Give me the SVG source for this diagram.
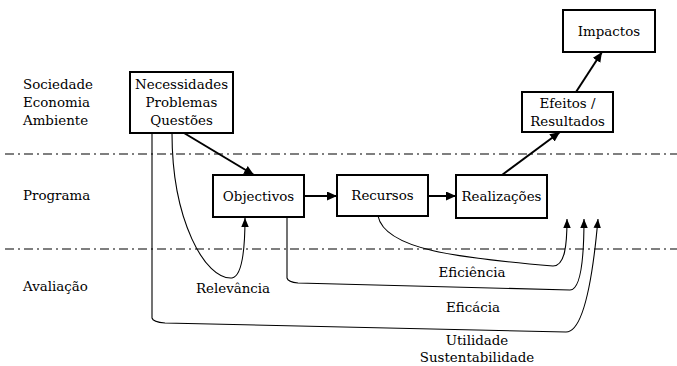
<svg xmlns="http://www.w3.org/2000/svg" width="677" height="366" viewBox="0 0 677 366">
<style>
text{font-family:"DejaVu Serif","Liberation Serif",serif;font-size:13.4px;fill:#000}
.c{text-anchor:middle}
.box{fill:#fff;stroke:#000;stroke-width:2}
.main{fill:none;stroke:#000;stroke-width:2}
.thin{fill:none;stroke:#000;stroke-width:1.1}
.sep{fill:none;stroke:#000;stroke-width:1.2;stroke-dasharray:9 4 2 4}
</style>
<defs>
<marker id="ah" markerUnits="userSpaceOnUse" markerWidth="11" markerHeight="9" refX="10" refY="4.5" orient="auto"><path d="M0,0 L10,4.5 L0,9 z" fill="#000"/></marker>
<marker id="ah2" markerUnits="userSpaceOnUse" markerWidth="10" markerHeight="8" refX="9" refY="3.75" orient="auto"><path d="M0,0 L9,3.75 L0,7.5 z" fill="#000"/></marker>
</defs>
<g id="separators">
<line class="sep" x1="5" y1="154" x2="677" y2="154"/>
<line class="sep" x1="5" y1="249" x2="677" y2="249"/>
</g>
<g id="labels">
<text x="23" y="89">Sociedade</text>
<text x="23" y="107">Economia</text>
<text x="23" y="125">Ambiente</text>
<text x="23" y="200">Programa</text>
<text x="23" y="291">Avaliação</text>
<text class="c" x="233" y="293">Relevância</text>
<text class="c" x="472" y="277">Eficiência</text>
<text class="c" x="473" y="312">Eficácia</text>
<text class="c" x="477" y="345">Utilidade</text>
<text class="c" x="477" y="362">Sustentabilidade</text>
</g>
<g id="connectors">
<line class="main" x1="184" y1="133" x2="254" y2="175" marker-end="url(#ah)"/>
<line class="main" x1="304" y1="196" x2="337" y2="196" marker-end="url(#ah)"/>
<line class="main" x1="428" y1="196" x2="456" y2="196" marker-end="url(#ah)"/>
<line class="main" x1="502" y1="175" x2="560" y2="132" marker-end="url(#ah)"/>
<line class="main" x1="576" y1="92" x2="602" y2="52" marker-end="url(#ah)"/>
<path class="thin" d="M172,133 C172,220 205,280 232,278 C243,276 245,245 245,218" marker-end="url(#ah2)"/>
<path class="thin" d="M378,216 C385,250 460,258 553,266 C565,266 567,245 567,219" marker-end="url(#ah2)"/>
<path class="thin" d="M287,217 L287,278 Q288,282 298,283 L570,290 C580,290 584,262 584,219" marker-end="url(#ah2)"/>
<path class="thin" d="M152,133 L152,318 Q153,322 165,323 L566,332 C580,332 591,298 598,219" marker-end="url(#ah2)"/>
</g>
<g id="necessidades">
<rect class="box" x="130" y="72" width="103" height="61"/>
<text class="c" x="181.5" y="89">Necessidades</text>
<text class="c" x="181.5" y="107">Problemas</text>
<text class="c" x="181.5" y="125">Questões</text>
</g>
<g id="objectivos">
<rect class="box" x="213" y="175" width="91" height="42"/>
<text class="c" x="258.5" y="201">Objectivos</text>
</g>
<g id="recursos">
<rect class="box" x="337" y="175" width="91" height="41"/>
<text class="c" x="382.5" y="200">Recursos</text>
</g>
<g id="realizacoes">
<rect class="box" x="456" y="175" width="91" height="43"/>
<text class="c" x="501.5" y="201">Realizações</text>
</g>
<g id="efeitos">
<rect class="box" x="522" y="92" width="91" height="40"/>
<text class="c" x="567.5" y="108">Efeitos /</text>
<text class="c" x="567.5" y="126">Resultados</text>
</g>
<g id="impactos">
<rect class="box" x="563" y="10" width="92" height="42"/>
<text class="c" x="609" y="36">Impactos</text>
</g>
</svg>
